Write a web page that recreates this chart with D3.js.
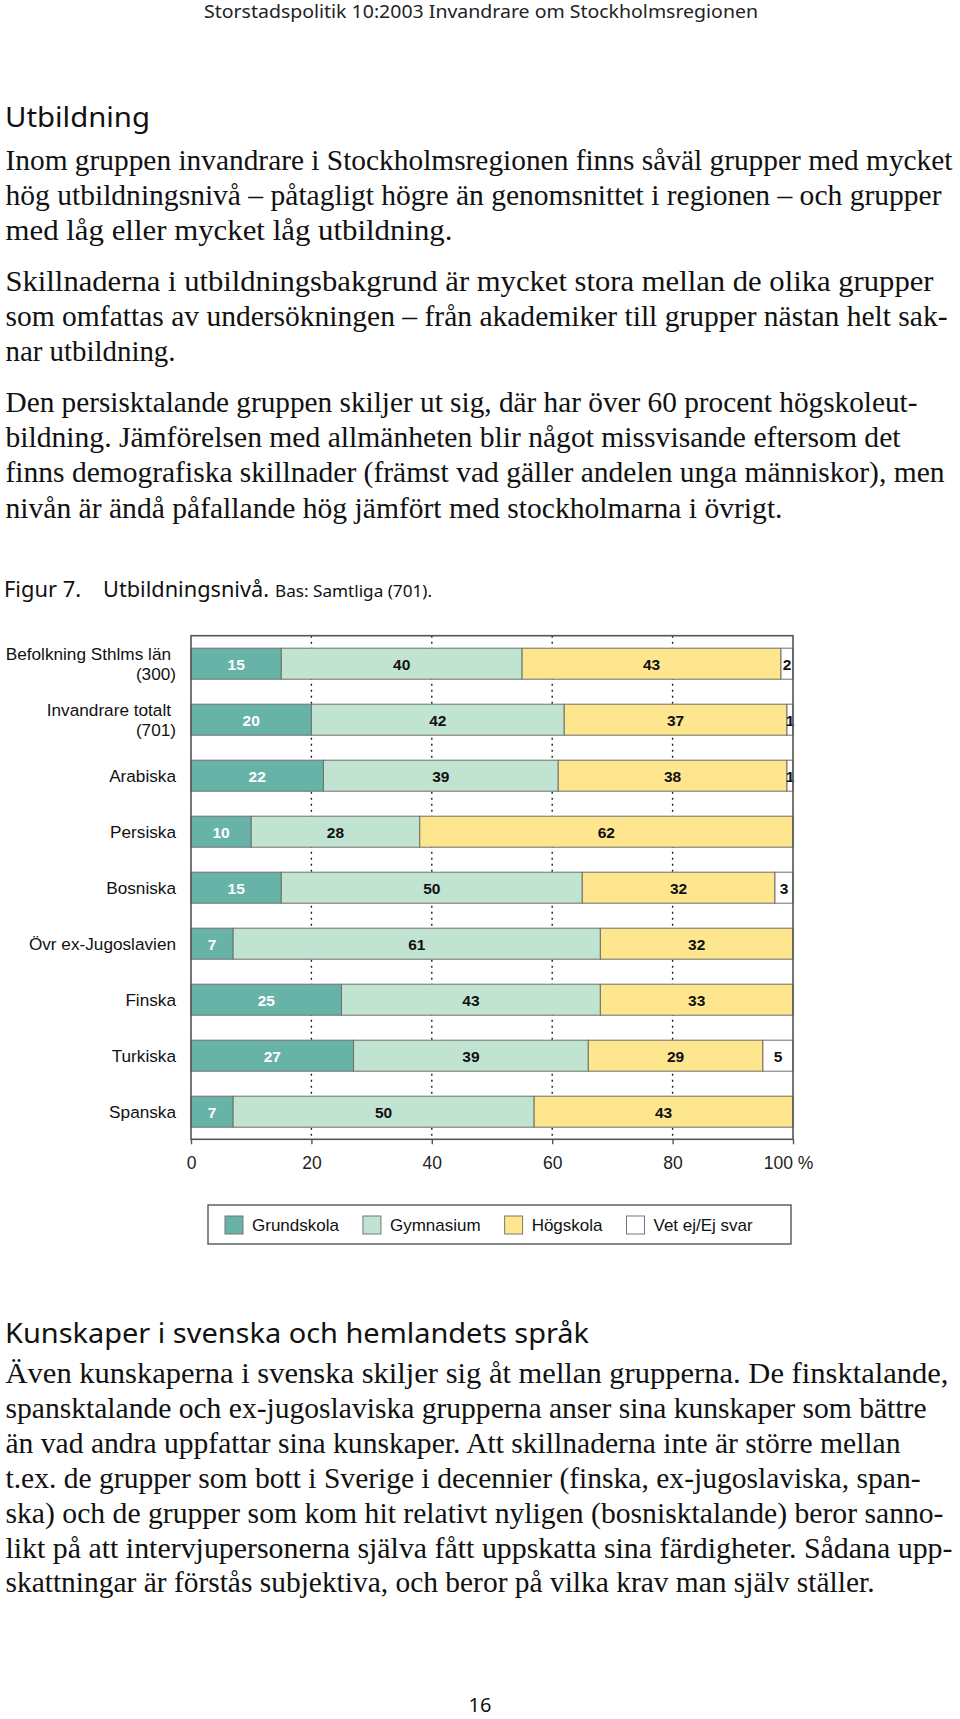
<!DOCTYPE html>
<html>
<head>
<meta charset="utf-8">
<script src="https://cdn.jsdelivr.net/npm/d3@7"></script>
<style>
  html, body { margin: 0; padding: 0; background: #fff; }
  svg { display: block; }
</style>
</head>
<body>
<script>
// ---------- DATA ----------
const categories = [
  "Befolkning Sthlms län|(300)",
  "Invandrare totalt|(701)",
  "Arabiska",
  "Persiska",
  "Bosniska",
  "Övr ex-Jugoslavien",
  "Finska",
  "Turkiska",
  "Spanska"
];
const seriesNames = ["Grundskola", "Gymnasium", "Högskola", "Vet ej/Ej svar"];
const grundskola = [15, 20, 22, 10, 15, 7, 25, 27, 7];
const gymnasium  = [40, 42, 39, 28, 50, 61, 43, 39, 50];
const hogskola   = [43, 37, 38, 62, 32, 32, 33, 29, 43];
const vetEj      = [2, 1, 1, 0, 3, 0, 0, 5, 0];
const xTicks = [0, 20, 40, 60, 80, 100];
const gridTicks = [20, 40, 60, 80];
const seriesColors = ["#68b3a8", "#c1e3d1", "#fde68e", "#ffffff"];

// ---------- TEXT ----------
const headerText = "Storstadspolitik 10:2003 Invandrare om Stockholmsregionen";
const heading1 = "Utbildning";
const section1 = [
  ["Inom gruppen invandrare i Stockholmsregionen finns såväl grupper med mycket",
   "hög utbildningsnivå – påtagligt högre än genomsnittet i regionen – och grupper",
   "med låg eller mycket låg utbildning."],
  ["Skillnaderna i utbildningsbakgrund är mycket stora mellan de olika grupper",
   "som omfattas av undersökningen – från akademiker till grupper nästan helt sak-",
   "nar utbildning."],
  ["Den persisktalande gruppen skiljer ut sig, där har över 60 procent högskoleut-",
   "bildning. Jämförelsen med allmänheten blir något missvisande eftersom det",
   "finns demografiska skillnader (främst vad gäller andelen unga människor), men",
   "nivån är ändå påfallande hög jämfört med stockholmarna i övrigt."]
];
const section1Widths = [[947, 936, 447], [928, 942, 170], [912, 895, 939, 777]];
const heading2 = "Kunskaper i svenska och hemlandets språk";
const section2 = [
  "Även kunskaperna i svenska skiljer sig åt mellan grupperna. De finsktalande,",
  "spansktalande och ex-jugoslaviska grupperna anser sina kunskaper som bättre",
  "än vad andra uppfattar sina kunskaper. Att skillnaderna inte är större mellan",
  "t.ex. de grupper som bott i Sverige i decennier (finska, ex-jugoslaviska, span-",
  "ska) och de grupper som kom hit relativt nyligen (bosnisktalande) beror sanno-",
  "likt på att intervjupersonerna själva fått uppskatta sina färdigheter. Sådana upp-",
  "skattningar är förstås subjektiva, och beror på vilka krav man själv ställer."
];
const section2Widths = [943, 921, 895, 915, 938, 947, 869];
const pageNumber = "16";

// ---------- DRAW ----------
const svg = d3.select("body").append("svg")
  .attr("width", 960).attr("height", 1719)
  .attr("viewBox", "0 0 960 1719");
svg.append("rect").attr("width", 960).attr("height", 1719).attr("fill", "#fff");

const humanist = "'Noto Sans', 'Open Sans', sans-serif";
const serif = "'Liberation Serif', 'Times New Roman', serif";
const sans = "'Liberation Sans', Arial, sans-serif";

// header
svg.append("text").attr("x", 481).attr("y", 18).attr("text-anchor", "middle")
  .attr("font-family", humanist).attr("font-size", 18).attr("fill", "#222")
  .attr("textLength", 554).attr("lengthAdjust", "spacingAndGlyphs")
  .text(headerText);

// heading 1
svg.append("text").attr("x", 5).attr("y", 127)
  .attr("font-family", humanist).attr("font-size", 27).attr("fill", "#111")
  .attr("textLength", 145).attr("lengthAdjust", "spacingAndGlyphs")
  .text(heading1);

// section 1 paragraphs
const lineH = 35.3, paraGap = 15;
let yy = 169.8;
section1.forEach((para, pi) => {
  para.forEach((line, li) => {
    svg.append("text").attr("x", 5.5).attr("y", yy)
      .attr("font-family", serif).attr("font-size", 29).attr("fill", "#111")
      .attr("textLength", section1Widths[pi][li]).attr("lengthAdjust", "spacingAndGlyphs")
      .text(line);
    yy += lineH;
  });
  yy += paraGap;
});

// Figure title
const ft = svg.append("g").attr("fill", "#111").attr("font-family", humanist);
ft.append("text").attr("x", 4).attr("y", 597).attr("font-size", 21.5)
  .attr("textLength", 77).attr("lengthAdjust", "spacingAndGlyphs").text("Figur 7.");
ft.append("text").attr("x", 103).attr("y", 597).attr("font-size", 21.5)
  .attr("textLength", 166).attr("lengthAdjust", "spacingAndGlyphs").text("Utbildningsnivå.");
ft.append("text").attr("x", 275).attr("y", 597).attr("font-size", 17)
  .attr("textLength", 157).attr("lengthAdjust", "spacingAndGlyphs").text("Bas: Samtliga (701).");

// ---------- CHART ----------
const plotTop = 635.7, plotBottom = 1139.7;
const x = d3.scaleLinear().domain([0, 100]).range([191, 793]).clamp(true);
const y = d3.scaleBand().domain(categories).range([plotTop, plotBottom])
  .paddingInner(25 / 56).paddingOuter(25 / 112);

const rows = categories.map((c, i) => ({
  cat: c,
  [seriesNames[0]]: grundskola[i],
  [seriesNames[1]]: gymnasium[i],
  [seriesNames[2]]: hogskola[i],
  [seriesNames[3]]: vetEj[i]
}));
const stacked = d3.stack().keys(seriesNames)(rows);

const chart = svg.append("g");

// gridlines
chart.selectAll("line.grid").data(gridTicks).join("line")
  .attr("class", "grid")
  .attr("x1", d => x(d)).attr("x2", d => x(d))
  .attr("y1", plotTop).attr("y2", plotBottom)
  .attr("stroke", "#222").attr("stroke-width", 1.4)
  .attr("stroke-dasharray", "2,4");

// bars
const layers = chart.selectAll("g.layer").data(stacked).join("g")
  .attr("class", "layer")
  .attr("fill", (d, i) => seriesColors[i]);
layers.selectAll("rect").data(d => d.filter(p => x(p[1]) - x(p[0]) > 0)).join("rect")
  .attr("x", p => x(p[0]))
  .attr("y", p => y(p.data.cat))
  .attr("width", p => x(p[1]) - x(p[0]))
  .attr("height", y.bandwidth())
  .attr("stroke", "#6f6f6a").attr("stroke-width", 1);

// value labels
stacked.forEach((layer, li) => {
  chart.append("g").selectAll("text")
    .data(layer.filter(p => p.data[layer.key] > 0)).join("text")
    .attr("x", p => (x(p[0]) + x(p[1])) / 2)
    .attr("y", p => y(p.data.cat) + y.bandwidth() / 2 + 5.8)
    .attr("text-anchor", "middle")
    .attr("font-family", sans).attr("font-weight", "bold").attr("font-size", 15.5)
    .attr("fill", li === 0 ? "#ffffff" : "#111")
    .text(p => p.data[layer.key]);
});

// frame
chart.append("rect")
  .attr("x", x(0)).attr("y", plotTop)
  .attr("width", x(100) - x(0)).attr("height", 1139.3 - plotTop)
  .attr("fill", "none").attr("stroke", "#555").attr("stroke-width", 1.6);

// x axis
const axis = chart.append("g").attr("transform", "translate(0,1139.3)")
  .call(d3.axisBottom(x).tickValues(xTicks).tickSize(5)
    .tickFormat(d => d === 100 ? "100 %" : d));
axis.select(".domain").remove();
axis.selectAll(".tick line").attr("stroke", "#555").attr("stroke-width", 1.4);
axis.selectAll(".tick text")
  .attr("y", 17.5).attr("font-family", sans).attr("font-size", 17.5).attr("fill", "#222")
  .attr("dx", d => d === 100 ? -5 : 0);

// category labels
const catG = chart.append("g").attr("font-family", sans).attr("font-size", 17.2)
  .attr("fill", "#111").attr("text-anchor", "end");
categories.forEach(c => {
  const parts = c.split("|");
  const cy = y(c) + y.bandwidth() / 2;
  if (parts.length === 1) {
    catG.append("text").attr("x", 176).attr("y", cy + 6).text(parts[0]);
  } else {
    catG.append("text").attr("x", 171).attr("y", cy - 10 + 6).text(parts[0]);
    catG.append("text").attr("x", 176).attr("y", cy + 10 + 6).text(parts[1]);
  }
});

// legend
const legend = svg.append("g");
legend.append("rect").attr("x", 208).attr("y", 1205).attr("width", 583).attr("height", 39)
  .attr("fill", "#fff").attr("stroke", "#555").attr("stroke-width", 1.4);
let lx = 225;
seriesNames.forEach((name, i) => {
  legend.append("rect").attr("x", lx).attr("y", 1216).attr("width", 18).attr("height", 18)
    .attr("fill", seriesColors[i]).attr("stroke", "#777").attr("stroke-width", 1);
  const t = legend.append("text").attr("x", lx + 27).attr("y", 1231)
    .attr("font-family", sans).attr("font-size", 17).attr("fill", "#111").text(name);
  lx = lx + 27 + t.node().getComputedTextLength() + 24;
});

// heading 2
svg.append("text").attr("x", 5).attr("y", 1343)
  .attr("font-family", humanist).attr("font-size", 27).attr("fill", "#111")
  .attr("textLength", 584).attr("lengthAdjust", "spacingAndGlyphs")
  .text(heading2);

let y2 = 1383;
section2.forEach((line, i) => {
  svg.append("text").attr("x", 5.5).attr("y", y2)
    .attr("font-family", serif).attr("font-size", 29).attr("fill", "#111")
    .attr("textLength", section2Widths[i]).attr("lengthAdjust", "spacingAndGlyphs")
    .text(line);
  y2 += 34.9;
});

// page number
svg.append("text").attr("x", 480).attr("y", 1712).attr("text-anchor", "middle")
  .attr("font-family", humanist).attr("font-size", 20).attr("fill", "#111")
  .text(pageNumber);
</script>
</body>
</html>
